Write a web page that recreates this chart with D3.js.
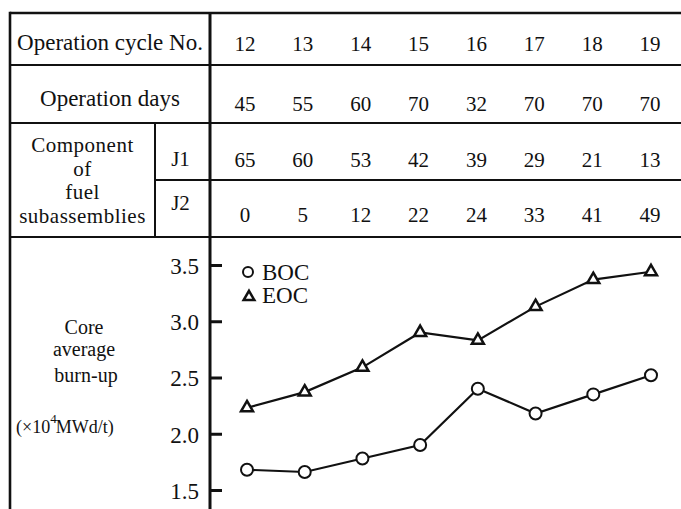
<!DOCTYPE html>
<html>
<head>
<meta charset="utf-8">
<script src="https://cdn.jsdelivr.net/npm/d3@7"></script>
<style>
  html, body { margin: 0; padding: 0; background: #fff; }
  svg text { font-family: "Liberation Serif", "Times New Roman", serif; fill: #111; }
</style>
</head>
<body>
<svg id="chart" width="681" height="509"></svg>
<script>
// Operating record per cycle
const cycles = [12, 13, 14, 15, 16, 17, 18, 19];
const operationDays = [45, 55, 60, 70, 32, 70, 70, 70];
const componentJ1 = [65, 60, 53, 42, 39, 29, 21, 13];
const componentJ2 = [0, 5, 12, 22, 24, 33, 41, 49];

// Core average burn-up (x10^4 MWd/t)
const burnupBOC = [1.68, 1.66, 1.78, 1.90, 2.40, 2.18, 2.35, 2.52];
const burnupEOC = [2.23, 2.37, 2.59, 2.90, 2.83, 3.13, 3.37, 3.44];
const yTicks = [1.5, 2.0, 2.5, 3.0, 3.5];

const W = 681, H = 509;
const svg = d3.select("#chart");
const ink = "#111";

// ---- layout of the table grid ----
const left = 10, divX = 210, subX = 155;
const rowY = [13, 65, 123, 180, 237];

const xTable = d3.scalePoint().domain(cycles).range([245, 650]);
const xPlot = d3.scalePoint().domain(cycles).range([247, 651]);
const y = d3.scaleLinear().domain([1.5, 3.5]).range([490, 265]);

const grid = svg.append("g").attr("stroke", ink).attr("fill", "none");
// horizontal rules
grid.append("line").attr("x1", left).attr("x2", W).attr("y1", rowY[0]).attr("y2", rowY[0]).attr("stroke-width", 2.6);
grid.append("line").attr("x1", left).attr("x2", W).attr("y1", rowY[1]).attr("y2", rowY[1]).attr("stroke-width", 2);
grid.append("line").attr("x1", left).attr("x2", W).attr("y1", rowY[2]).attr("y2", rowY[2]).attr("stroke-width", 2);
grid.append("line").attr("x1", subX).attr("x2", W).attr("y1", rowY[3]).attr("y2", rowY[3]).attr("stroke-width", 2);
grid.append("line").attr("x1", left).attr("x2", W).attr("y1", rowY[4]).attr("y2", rowY[4]).attr("stroke-width", 2.2);
// vertical rules
grid.append("line").attr("x1", left).attr("x2", left).attr("y1", rowY[0] - 1.3).attr("y2", H).attr("stroke-width", 2.6);
grid.append("line").attr("x1", subX).attr("x2", subX).attr("y1", rowY[2]).attr("y2", rowY[4]).attr("stroke-width", 2);
grid.append("line").attr("x1", divX).attr("x2", divX).attr("y1", rowY[0]).attr("y2", H).attr("stroke-width", 3);

// ---- row headers ----
const fs = 23;
function label(x, yy, txt, size, anchor) {
  return svg.append("text").attr("x", x).attr("y", yy)
    .attr("font-size", size || fs).attr("text-anchor", anchor || "middle").text(txt);
}
label((left + divX) / 2, 50, "Operation cycle No.");
label((left + divX) / 2, 106, "Operation days");
// stacked header spanning the J1 / J2 rows
const compLines = ["Component", "of", "fuel", "subassemblies"];
const compBase = [152, 175.5, 199, 222.5];
compLines.forEach((t, i) => {
  label((left + subX) / 2, compBase[i], t, 21).attr("letter-spacing", 0.5);
});
label((subX + divX) / 2 - 2, 166, "J1", 21);
label((subX + divX) / 2 - 2, 210, "J2", 21);

// ---- table values ----
const tableRows = [
  { values: cycles, base: 50.5 },
  { values: operationDays, base: 110.5 },
  { values: componentJ1, base: 166.5 },
  { values: componentJ2, base: 222 }
];
tableRows.forEach(r => {
  svg.append("g").selectAll("text").data(r.values).join("text")
    .attr("x", (d, i) => xTable(cycles[i]))
    .attr("y", r.base)
    .attr("font-size", 21)
    .attr("text-anchor", "middle")
    .text(d => d);
});

// ---- burn-up axis ----
const axis = d3.axisLeft(y).tickValues(yTicks).tickFormat(d3.format(".1f"))
  .tickSizeInner(-12).tickSizeOuter(0).tickPadding(11);
const axG = svg.append("g").attr("transform", `translate(${divX},0)`).call(axis);
axG.select(".domain").remove();
axG.selectAll(".tick line").attr("stroke", ink).attr("stroke-width", 3);
axG.selectAll(".tick text").attr("font-size", fs).attr("fill", ink)
  .attr("font-family", "Liberation Serif, serif").attr("dy", "0.36em");

// axis title
label(84, 334, "Core", 20);
label(84, 356, "average", 20);
label(86, 382, "burn-up", 20);
const unit = svg.append("text").attr("x", 16).attr("y", 433).attr("font-size", 18);
unit.append("tspan").text("(\u00d710");
unit.append("tspan").attr("font-size", 13).attr("dy", -10).attr("dx", 0).text("4");
unit.append("tspan").attr("dy", 10).attr("dx", -1).text("MWd/t)");

// ---- series ----
const line = d3.line().x((d, i) => xPlot(cycles[i])).y(d => y(d));
const plot = svg.append("g");
[burnupEOC, burnupBOC].forEach(s => {
  plot.append("path").datum(s).attr("d", line)
    .attr("fill", "none").attr("stroke", ink).attr("stroke-width", 2.2);
});
plot.append("g").selectAll("circle").data(burnupBOC).join("circle")
  .attr("cx", (d, i) => xPlot(cycles[i])).attr("cy", d => y(d)).attr("r", 6)
  .attr("fill", "#fff").attr("stroke", ink).attr("stroke-width", 2);
const tri = d3.symbol(d3.symbolTriangle, 62);
plot.append("g").selectAll("path").data(burnupEOC).join("path")
  .attr("d", tri)
  .attr("transform", (d, i) => `translate(${xPlot(cycles[i])},${y(d)})`)
  .attr("fill", "#fff").attr("stroke", ink).attr("stroke-width", 2.5)
  .attr("stroke-linejoin", "miter");

// ---- legend ----
const lg = svg.append("g");
lg.append("circle").attr("cx", 248).attr("cy", 272).attr("r", 5)
  .attr("fill", "#fff").attr("stroke", ink).attr("stroke-width", 2);
label(262, 279.5, "BOC", fs, "start");
lg.append("path").attr("d", d3.symbol(d3.symbolTriangle, 50))
  .attr("transform", "translate(249,297)")
  .attr("fill", "#fff").attr("stroke", ink).attr("stroke-width", 2.5);
label(262, 303, "EOC", fs, "start");
</script>
</body>
</html>
